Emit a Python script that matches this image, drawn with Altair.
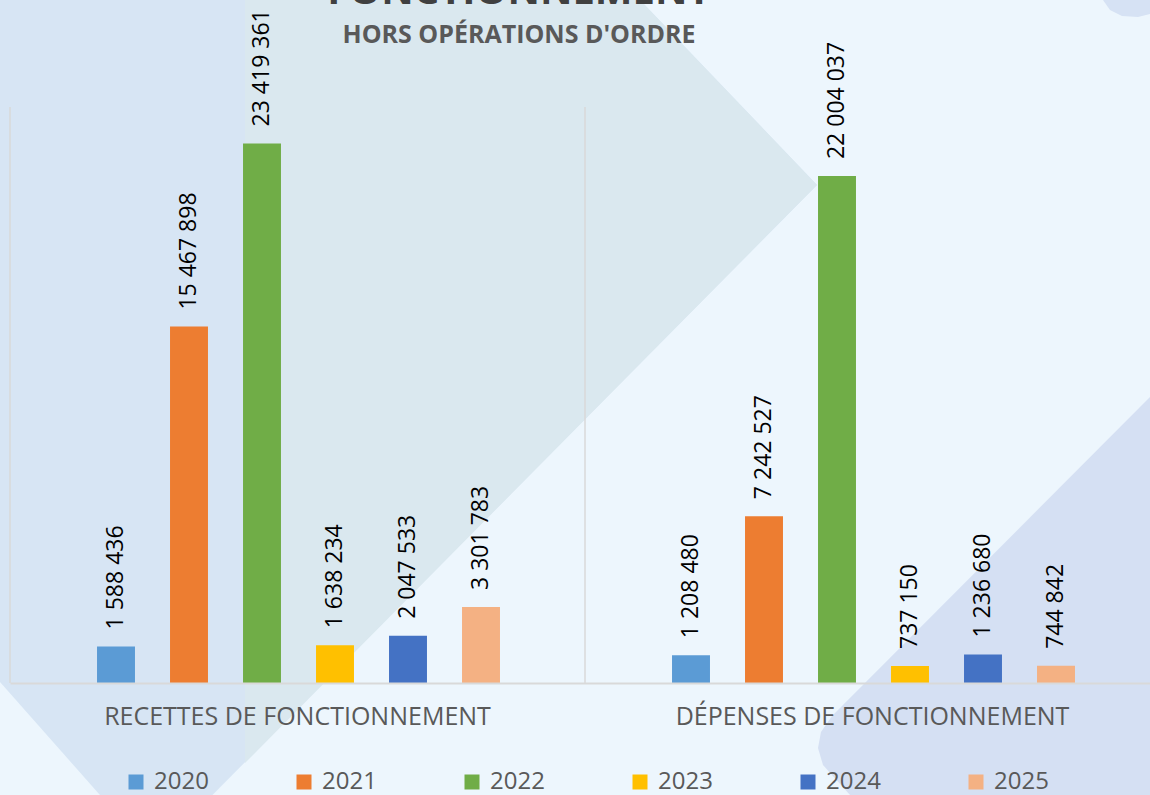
import altair as alt
import pandas as pd

# ---- data ----
categories = ["RECETTES DE FONCTIONNEMENT", "DÉPENSES DE FONCTIONNEMENT"]
years = ["2020", "2021", "2022", "2023", "2024", "2025"]
recettes = [1588436, 15467898, 23419361, 1638234, 2047533, 3301783]
depenses = [1208480, 7242527, 22004037, 737150, 1236680, 744842]
year_colors = ["#5B9BD5", "#ED7D31", "#70AD47", "#FFC000", "#4472C4", "#F4B183"]

# decorative background shapes (page pixels)
deco_blue = [(0, 0), (640, 0), (817, 185), (153, 855), (0, 682)]
deco_green = [(245, 0), (640, 0), (817, 185), (245, 763)]
deco_right = [(1150, 397), (832, 716), (821, 732), (818, 748), (823, 765), (850, 795), (1150, 795)]
deco_corner = [(1103, 0), (1110, 10), (1122, 16), (1138, 17), (1150, 14), (1150, 0)]
deco_shapes = [(deco_blue, "#D7E5F4"), (deco_green, "#DAE8EF"),
               (deco_right, "#D5E0F3"), (deco_corner, "#D6E2F4")]

LEFT, TOP = 10, 107


def fmt(v):
    return f"{v:,}".replace(",", " ")


rows = []
for cat, vals in zip(categories, [recettes, depenses]):
    for yr, v in zip(years, vals):
        rows.append({"cat": cat, "year": yr, "value": v, "label": fmt(v)})
df = pd.DataFrame(rows)

xscale = alt.Scale(domain=categories, range=[0, 1150], paddingInner=0, paddingOuter=0)
yscale = alt.Scale(domain=[0, 25000000], nice=False, zero=True)
xaxis = alt.Axis(title=None, orient="bottom", ticks=False, domain=True, labels=True,
                 domainColor="#D9D9D9", domainWidth=2, labelFontSize=25,
                 labelColor="#595959", labelFont="Open Sans", labelPadding=21,
                 labelAngle=0, grid=False, labelLimit=600, zindex=1)
xoff = alt.XOffset("year:N", scale=alt.Scale(domain=years, range=[69.5, 507.5],
                                              paddingInner=0.48, paddingOuter=0.24))

rules = alt.Chart(pd.DataFrame({"cat": categories})).mark_rule(
    color="#D9D9D9", strokeWidth=1.5
).encode(
    x=alt.X("cat:N", scale=xscale, bandPosition=0, axis=xaxis),
    y=alt.Y(datum=25000000, scale=yscale, axis=None),
    y2=alt.Y2(datum=0),
)

bars = alt.Chart(df).mark_bar().encode(
    x=alt.X("cat:N", scale=xscale, axis=xaxis),
    xOffset=xoff,
    y=alt.Y("value:Q", scale=yscale, axis=None),
    color=alt.Color(
        "year:N",
        scale=alt.Scale(domain=years, range=year_colors),
        legend=alt.Legend(
            title=None, orient="none", legendX=114, legendY=663,
            direction="horizontal", columns=6, symbolType="square",
            symbolSize=225, symbolStrokeWidth=0, labelFontSize=24,
            labelFont="Open Sans", labelColor="#595959", labelOffset=6,
            columnPadding=83, zindex=1,
        ),
    ),
)

labels = alt.Chart(df).mark_text(
    angle=270, align="left", baseline="middle", dx=17,
    fontSize=23, font="Open Sans", color="#000000"
).encode(
    x=alt.X("cat:N", scale=xscale, axis=xaxis),
    xOffset=xoff,
    y=alt.Y("value:Q", scale=yscale, axis=None),
    text="label:N",
)

deco_layers = []
for k, (pts, col) in enumerate(deco_shapes):
    ddf = pd.DataFrame({"i": list(range(len(pts))),
                        "px": [p[0] - LEFT for p in pts],
                        "py": [p[1] - TOP for p in pts]})
    deco_layers.append(
        alt.Chart(ddf).mark_line(fill=col, strokeOpacity=0, strokeWidth=0).encode(
            x=alt.X("px:Q", scale=None, axis=None),
            y=alt.Y("py:Q", scale=None, axis=None),
            order=alt.Order("i:Q"),
        )
    )

chart = alt.layer(*deco_layers, rules, bars, labels).properties(
    width=1140,
    height=576,
    padding={"left": LEFT, "top": TOP, "right": 0, "bottom": 112},
    autosize=alt.AutoSizeParams(type="none"),
    background="#EDF6FD",
    title=alt.TitleParams(
        text="FONCTIONNEMENT",
        subtitle="HORS OPÉRATIONS D'ORDRE",
        font="Open Sans", fontSize=40, fontWeight="bold", color="#404040",
        subtitleFont="Open Sans", subtitleFontSize=25, subtitleFontWeight="bold",
        subtitleColor="#595959", subtitlePadding=11,
        anchor="middle", frame="group", offset=0, dx=-61, dy=48, zindex=1,
    ),
).configure(font="Open Sans").configure_view(
    strokeWidth=0, stroke="transparent"
).configure_axis(
    domain=False, grid=False, ticks=False, labels=False
)

chart.save("out.html", embed_options={"renderer": "svg", "actions": False})
